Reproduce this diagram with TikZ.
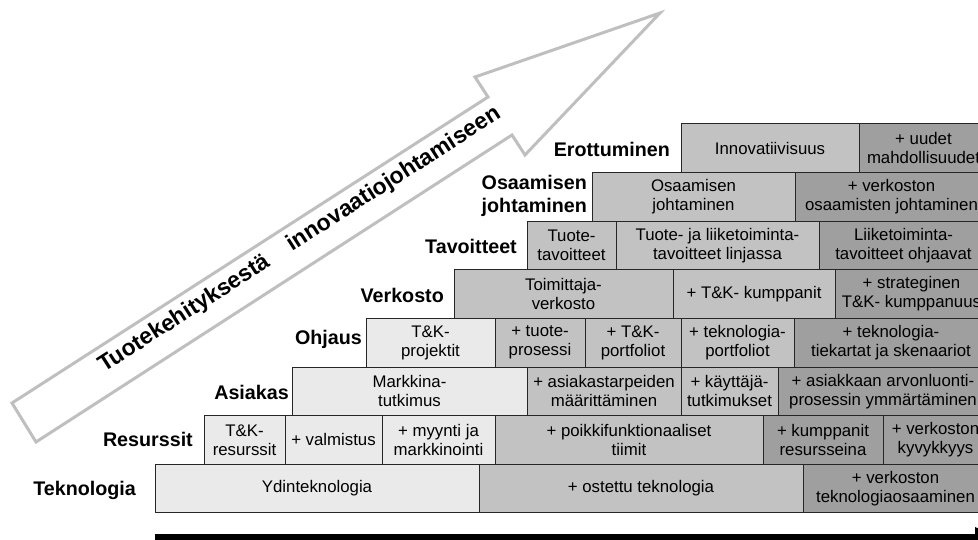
\documentclass[tikz,border=0pt]{standalone}
\usepackage{fontspec}
\setmainfont{Liberation Sans}
\usetikzlibrary{arrows.meta}

\definecolor{tilelight}{HTML}{EAEAEA}
\definecolor{tilemid}{HTML}{C2C2C2}
\definecolor{tiledark}{HTML}{9F9F9F}
\definecolor{arrowgrey}{HTML}{BFBFBF}

% one step of the staircase: name, left x, right x, top y, fill style, text
\newcommand{\tilebox}[6]{%
  \pgfmathsetmacro{\tbw}{#3-#2}%
  \pgfmathsetmacro{\tbx}{(#2+#3)/2}%
  \pgfmathsetmacro{\tby}{#4+24.3}%
  \node[tile,#5,minimum width=\tbw pt,minimum height=48.6pt] (#1) at (\tbx,\tby) {#6};%
}

\begin{document}
\begin{tikzpicture}[x=1pt,y=-1pt,
  tile/.style={draw=black!85, line width=1pt, inner sep=0pt, outer sep=0pt,
    align=center, font=\fontsize{16.8}{19}\selectfont},
  tlight/.style={fill=tilelight},
  tmid/.style={fill=tilemid},
  tdark/.style={fill=tiledark},
  rowlabel/.style={font=\fontsize{19.7}{23}\selectfont\bfseries, inner sep=0pt,
    anchor=base east, align=right},
  bigarrow/.style={draw=arrowgrey, line width=3pt, fill=white, line join=miter},
  arrowtext/.style={font=\fontsize{23}{27}\selectfont\bfseries, inner sep=0pt,
    anchor=base west, rotate=32.7},
  axis/.style={line width=8pt, -{Triangle[length=25pt,width=20pt]}}
  ]
\useasboundingbox (0,0) rectangle (978,540);
\clip (0,0) rectangle (978,540);

% rising hollow arrow
\draw[bigarrow] (12,403) -- (488,97) -- (475,77) -- (660,13)
  -- (525,155) -- (512,135) -- (36,442) -- cycle;
\node[arrowtext] (trend) at (104,373)
  {Tuotekehityksestä\hspace{25pt}innovaatiojohtamiseen};

% Teknologia
\tilebox{ydin}{155}{479}{464.2}{tlight}{Ydinteknologia}
\tilebox{ostettu}{479}{803}{464.2}{tmid}{+ ostettu teknologia}
\tilebox{verkteko}{803}{988}{464.2}{tdark}{+ verkoston\\teknologiaosaaminen}
% Resurssit
\tilebox{tkres}{204}{285}{415.6}{tlight}{T\&K-\\resurssit}
\tilebox{valm}{285}{382}{415.6}{tlight}{+ valmistus}
\tilebox{myynti}{382}{495}{415.6}{tlight}{+ myynti ja\\markkinointi}
\tilebox{poikki}{495}{763}{415.6}{tmid}{+ poikkifunktionaaliset\\tiimit}
\tilebox{kumpres}{763}{883}{415.6}{tdark}{+ kumppanit\\resursseina}
\tilebox{verkkyv}{883}{988}{415.6}{tdark}{+ verkoston\\kyvykkyys}
% Asiakas
\tilebox{markkina}{292}{527}{367}{tlight}{Markkina-\\tutkimus}
\tilebox{asiakastarp}{527}{681}{367}{tmid}{+ asiakastarpeiden\\määrittäminen}
\tilebox{kayttaja}{681}{778}{367}{tmid}{+ käyttäjä-\\tutkimukset}
\tilebox{arvonluonti}{778}{988}{367}{tdark}{+ asiakkaan arvonluonti-\\prosessin ymmärtäminen}
% Ohjaus
\tilebox{tkproj}{366}{495}{318.4}{tlight}{T\&K-\\projektit}
\tilebox{tuoteproc}{495}{585}{318.4}{tmid}{+ tuote-\\prosessi}
\tilebox{tkport}{585}{681}{318.4}{tmid}{+ T\&K-\\portfoliot}
\tilebox{tekport}{681}{794}{318.4}{tmid}{+ teknologia-\\portfoliot}
\tilebox{tiekartat}{794}{988}{318.4}{tdark}{+ teknologia-\\tiekartat ja skenaariot}
% Verkosto
\tilebox{toimittaja}{454}{673}{269.8}{tmid}{Toimittaja-\\verkosto}
\tilebox{tkkump}{673}{835}{269.8}{tmid}{+ T\&K- kumppanit}
\tilebox{strateg}{835}{988}{269.8}{tdark}{+ strateginen\\T\&K- kumppanuus}
% Tavoitteet
\tilebox{tuotetav}{527}{616}{221.2}{tmid}{Tuote-\\tavoitteet}
\tilebox{linjassa}{616}{819}{221.2}{tmid}{Tuote- ja liiketoiminta-\\tavoitteet linjassa}
\tilebox{ohjaavat}{819}{988}{221.2}{tdark}{Liiketoiminta-\\tavoitteet ohjaavat}
% Osaamisen johtaminen
\tilebox{osjoht}{592}{795}{172.6}{tmid}{Osaamisen\\johtaminen}
\tilebox{verkosjoht}{795}{988}{172.6}{tdark}{+ verkoston\\osaamisten johtaminen}
% Erottuminen
\tilebox{innov}{681}{859}{124}{tmid}{Innovatiivisuus}
\tilebox{uudet}{859}{988}{124}{tdark}{+ uudet\\mahdollisuudet}

% row labels
\node[rowlabel] (lteknologia) at (136,495) {Teknologia};
\node[rowlabel] (lresurssit) at (193,446) {Resurssit};
\node[rowlabel] (lasiakas) at (289,399) {Asiakas};
\node[rowlabel] (lohjaus) at (362,344.5) {Ohjaus};
\node[rowlabel] (lverkosto) at (444,303) {Verkosto};
\node[rowlabel] (ltavoitteet) at (517,254) {Tavoitteet};
\node[rowlabel, anchor=east] (losaaminen) at (587,196) {Osaamisen\\johtaminen};
\node[rowlabel] (lerottuminen) at (670,157) {Erottuminen};

% time axis along the bottom
\coordinate (axisstart) at (155,538);
\coordinate (axisend) at (1000,538);
\draw[axis] (axisstart) -- (axisend);
\end{tikzpicture}
\end{document}
